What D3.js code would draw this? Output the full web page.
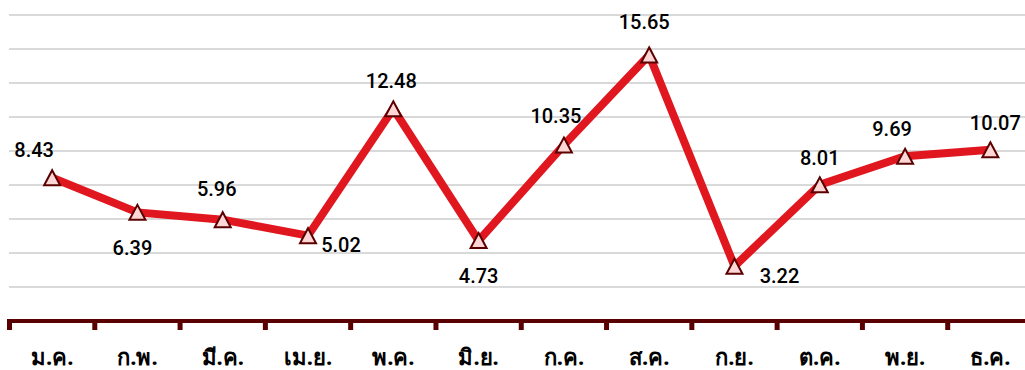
<!DOCTYPE html>
<html>
<head>
<meta charset="utf-8">
<script src="https://cdn.jsdelivr.net/npm/d3@7"></script>
<style>
  html, body { margin: 0; padding: 0; background: #fff; }
  svg { display: block; }
</style>
</head>
<body>
<svg id="chart" width="1025" height="370"></svg>
<script>
// Monthly values
const months = ["ม.ค.", "ก.พ.", "มี.ค.", "เม.ย.", "พ.ค.", "มิ.ย.", "ก.ค.", "ส.ค.", "ก.ย.", "ต.ค.", "พ.ย.", "ธ.ค."];
const values = [8.43, 6.39, 5.96, 5.02, 12.48, 4.73, 10.35, 15.65, 3.22, 8.01, 9.69, 10.07];
const gridValues = [2, 4, 6, 8, 10, 12, 14, 16, 18];

// Value label placement relative to each point [dx, dy]
const labelOffsets = [[-18, -21], [-5, 43], [-6, -24], [33, 16], [-2, -21], [0, 42],
                      [-8, -22], [-5, -26], [45, 17], [0, -20], [-13, -20], [5, -20]];

const svg = d3.select("#chart");

const x = d3.scaleBand().domain(months).range([9.5, 1033]).paddingInner(0).paddingOuter(0);
const y = d3.scaleLinear().domain([0, 18]).range([321, 15]);

// Horizontal gridlines
svg.append("g")
  .selectAll("line")
  .data(gridValues)
  .join("line")
  .attr("x1", 9)
  .attr("x2", 1025)
  .attr("y1", d => y(d))
  .attr("y2", d => y(d))
  .attr("stroke", "#d9d9d9")
  .attr("stroke-width", 2);

// Category axis with ticks at band boundaries
const xAxis = svg.append("g")
  .attr("transform", `translate(0,${y(0)})`);

xAxis.append("line")
  .attr("x1", 7).attr("x2", 1025)
  .attr("y1", 0).attr("y2", 0)
  .attr("stroke", "#5a0000")
  .attr("stroke-width", 4);

const boundaries = months.map(m => x(m)).concat([x(months[months.length - 1]) + x.bandwidth()]);
xAxis.selectAll("line.tick")
  .data(boundaries)
  .join("line")
  .attr("class", "tick")
  .attr("x1", d => d).attr("x2", d => d)
  .attr("y1", -2).attr("y2", 9)
  .attr("stroke", "#5a0000")
  .attr("stroke-width", 5);

xAxis.selectAll("text")
  .data(months)
  .join("text")
  .attr("x", d => x(d) + x.bandwidth() / 2)
  .attr("y", 44)
  .attr("text-anchor", "middle")
  .attr("font-family", "'Noto Sans', 'DejaVu Sans', sans-serif")
  .attr("font-weight", "bold")
  .attr("font-size", 22)
  .attr("fill", "#000")
  .text(d => d);

const cx = (d, i) => x(months[i]) + x.bandwidth() / 2;
const cy = d => y(d);

// Series line
const line = d3.line()
  .x((d, i) => cx(d, i))
  .y(d => cy(d));

svg.append("path")
  .datum(values)
  .attr("d", line)
  .attr("fill", "none")
  .attr("stroke", "#e0171f")
  .attr("stroke-width", 8)
  .attr("stroke-linejoin", "miter");

// Triangle markers
svg.append("g")
  .selectAll("path")
  .data(values)
  .join("path")
  .attr("transform", (d, i) => `translate(${cx(d, i)},${cy(d)})`)
  .attr("d", "M0,-7.5 L8,7.5 L-8,7.5 Z")
  .attr("fill", "#ffd6d6")
  .attr("stroke", "#5a0000")
  .attr("stroke-width", 2)
  .attr("stroke-linejoin", "miter");

// Value labels
svg.append("g")
  .selectAll("text")
  .data(values)
  .join("text")
  .attr("x", (d, i) => cx(d, i) + labelOffsets[i][0])
  .attr("y", (d, i) => cy(d) + labelOffsets[i][1])
  .attr("text-anchor", "middle")
  .attr("font-family", "Roboto, 'Liberation Sans', Arial, sans-serif")
  .attr("font-weight", 500)
  .attr("font-size", 20)
  .attr("fill", "#000")
  .text(d => d.toFixed(2));
</script>
</body>
</html>
